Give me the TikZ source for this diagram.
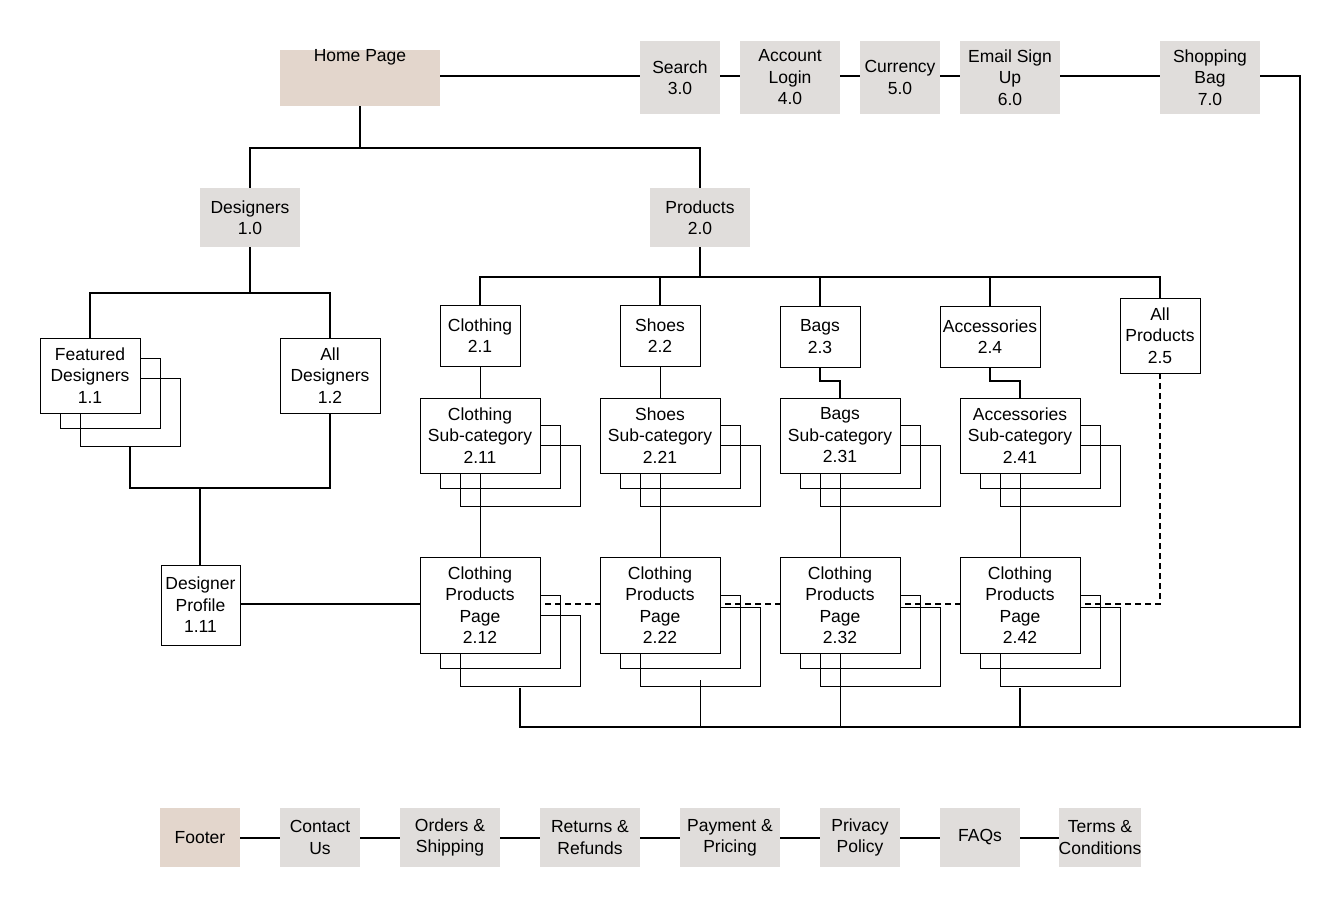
\documentclass[tikz,border=0pt]{standalone}
\usepackage{fontspec}
\setmainfont{Liberation Sans}
\begin{document}
\begin{tikzpicture}[x=1pt,y=-1pt,
  base/.style={inner sep=0pt,align=center,font=\fontsize{17.5}{21.5}\selectfont},
  gbox/.style={base,fill=gfill},
  pbox/.style={base,fill=pfill},
  wbox/.style={base,fill=white,draw=black,line width=0.8pt},
  ln/.style={line width=1.6pt},
  thin/.style={line width=0.8pt},
  dsh/.style={line width=1.4pt,dash pattern=on 6pt off 4pt}]
\definecolor{gfill}{HTML}{E0DDDB}
\definecolor{pfill}{HTML}{E3D6CC}
\useasboundingbox (0,0) rectangle (1340,908);
\newcommand\bx[7]{\node[#6,minimum width={(#4-#2)*1pt},minimum height={(#5-#3)*1pt}] (#1) at ({(#2+#4)/2},{(#3+#5)/2}) {#7};}
\newcommand\lay[6]{\draw[thin] ({#1+20},{#2+#5}) rectangle ({#3+20},{#4+15}); \draw[thin] ({#1+40},{#2+#6}) rectangle ({#3+40},{#4+33});}
% ---- coordinates for corners
\coordinate (cr1) at (1300,76);
\coordinate (cr2) at (1300,727);
\coordinate (bus) at (520,727);
% ---- lines
\draw[ln] (440,76) -- (cr1) -- (cr2) -- (bus) -- (520,688);
\draw[thin] (700,727) -- (700,680);
\draw[thin] (840,727) -- (840,473);
\draw[ln] (1020,727) -- (1020,688);
\draw[ln] (360,103) -- (360,148) -- (250,148) -- (250,188);
\draw[ln] (360,148) -- (700,148) -- (700,188);
\draw[ln] (250,247) -- (250,293) -- (90,293) -- (90,338);
\draw[ln] (250,293) -- (330,293) -- (330,338);
\draw[ln] (130,447) -- (130,488) -- (330,488) -- (330,413);
\draw[ln] (200,488) -- (200,565);
\draw[ln] (240,604) -- (420,604);
\draw[ln] (700,247) -- (700,277) -- (480,277) -- (480,305);
\draw[ln] (700,277) -- (1160,277) -- (1160,298);
\draw[ln] (660,277) -- (660,305);
\draw[ln] (820,277) -- (820,306);
\draw[ln] (990,277) -- (990,306);
\draw[thin] (480,366) -- (480,557);
\draw[thin] (660,366) -- (660,557);
\draw[ln] (820,367) -- (820,381) -- (840,381) -- (840,398);
\draw[ln] (990,367) -- (990,381) -- (1020,381) -- (1020,398);
\draw[thin] (1020,473) -- (1020,557);
\draw[dsh] (1160,373) -- (1160,604) -- (540,604);
\draw[ln] (240,838) -- (1060,838);
% ---- stack layers
\lay{40}{338}{140}{413}{20}{40}
\lay{420}{398}{540}{473}{27}{47}
\lay{600}{398}{720}{473}{27}{47}
\lay{780}{398}{900}{473}{27}{47}
\lay{960}{398}{1080}{473}{27}{47}
\lay{420}{557}{540}{653}{38}{58}
\lay{600}{557}{720}{653}{38}{50}
\lay{780}{557}{900}{653}{38}{50}
\lay{960}{557}{1080}{653}{38}{50}
% ---- top
\bx{home}{280}{53}{440}{103}{pbox}{Home Page\\[23pt]}
\bx{search}{640}{41}{720}{114}{gbox}{Search\\3.0}
\bx{acct}{740}{41}{840}{114}{gbox}{Account\\Login\\4.0}
\bx{cur}{860}{41}{940}{114}{gbox}{Currency\\5.0}
\bx{email}{960}{41}{1060}{114}{gbox}{Email Sign\\Up\\6.0}
\bx{bag}{1160}{41}{1260}{114}{gbox}{Shopping\\Bag\\7.0}
\bx{des}{200}{188}{300}{247}{gbox}{Designers\\1.0}
\bx{prod}{650}{188}{750}{247}{gbox}{Products\\2.0}
\bx{feat}{40}{338}{140}{413}{wbox}{Featured\\Designers\\1.1}
\bx{alld}{280}{338}{380}{413}{wbox}{All\\Designers\\1.2}
\bx{prof}{161}{565}{240}{645}{wbox}{Designer\\Profile\\1.11}
\bx{c21}{440}{305}{520}{366}{wbox}{Clothing\\2.1}
\bx{c22}{620}{305}{700}{366}{wbox}{Shoes\\2.2}
\bx{c23}{780}{306}{860}{367}{wbox}{Bags\\2.3}
\bx{c24}{940}{306}{1040}{367}{wbox}{Accessories\\2.4}
\bx{c25}{1120}{298}{1200}{373}{wbox}{All\\Products\\2.5}
\bx{s211}{420}{398}{540}{473}{wbox}{Clothing\\Sub-category\\2.11}
\bx{s221}{600}{398}{720}{473}{wbox}{Shoes\\Sub-category\\2.21}
\bx{s231}{780}{398}{900}{473}{wbox}{Bags\\Sub-category\\2.31}
\bx{s241}{960}{398}{1080}{473}{wbox}{Accessories\\Sub-category\\2.41}
\bx{p212}{420}{557}{540}{653}{wbox}{Clothing\\Products\\Page\\2.12}
\bx{p222}{600}{557}{720}{653}{wbox}{Clothing\\Products\\Page\\2.22}
\bx{p232}{780}{557}{900}{653}{wbox}{Clothing\\Products\\Page\\2.32}
\bx{p242}{960}{557}{1080}{653}{wbox}{Clothing\\Products\\Page\\2.42}
% ---- footer
\bx{foot}{160}{808}{240}{867}{pbox}{Footer}
\bx{f1}{280}{808}{360}{867}{gbox}{Contact\\Us}
\bx{f2}{400}{808}{500}{867}{gbox}{Orders \&\\Shipping}
\bx{f3}{540}{808}{640}{867}{gbox}{Returns \&\\Refunds}
\bx{f4}{680}{808}{780}{867}{gbox}{Payment \&\\Pricing}
\bx{f5}{820}{808}{900}{867}{gbox}{Privacy\\Policy}
\bx{f6}{940}{808}{1020}{867}{gbox}{FAQs}
\bx{f7}{1060}{808}{1140}{867}{gbox}{Terms \&\\Conditions}
\end{tikzpicture}
\end{document}
